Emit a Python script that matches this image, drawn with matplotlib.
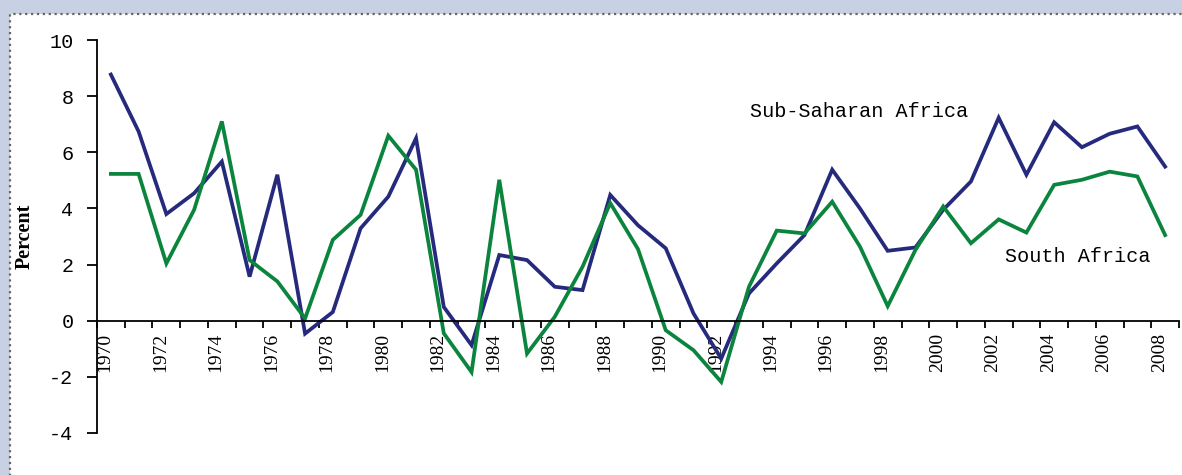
import matplotlib
matplotlib.use("Agg")
import matplotlib.pyplot as plt
from matplotlib.patches import Rectangle
from matplotlib.transforms import ScaledTranslation

years = list(range(1970, 2009))
ssa = [8.77, 6.74, 3.80, 4.54, 5.67, 1.57, 5.20, -0.46, 0.31, 3.29,
       4.42, 6.50, 0.49, -0.87, 2.34, 2.16, 1.21, 1.09, 4.48, 3.40,
       2.58, 0.26, -1.35, 0.97, 2.04, 3.05, 5.38, 4.00, 2.49, 2.61,
       3.95, 4.96, 7.23, 5.20, 7.07, 6.18, 6.66, 6.92, 5.49]
south_africa = [5.23, 5.23, 2.04, 3.95, 7.10, 2.16, 1.40, 0.08, 2.88, 3.77,
                6.59, 5.38, -0.45, -1.83, 5.02, -1.17, 0.14, 1.92, 4.19, 2.55,
                -0.34, -1.05, -2.18, 1.21, 3.21, 3.11, 4.24, 2.64, 0.52, 2.52,
                4.07, 2.76, 3.61, 3.14, 4.84, 5.02, 5.31, 5.14, 3.05]
y_ticks = [-4, -2, 0, 2, 4, 6, 8, 10]
label_ssa = "Sub-Saharan Africa"
label_sa = "South Africa"
y_label = "Percent"

W, H = 1182, 475
fig = plt.figure(figsize=(W / 100, H / 100), dpi=100, facecolor="#C8D0E4")
panel = Rectangle((10 / W, -0.05), 1.2, 1.05 - 14 / H,
                  transform=fig.transFigure, facecolor="white",
                  edgecolor="#666666", linestyle=":", lw=1.6, zorder=-10)
fig.patches.append(panel)

ax = fig.add_axes([97 / W, 42 / H, (1179 - 97) / W, (433 - 40) / H])
ax.set_zorder(5)
ax.set_facecolor("none")

x = list(range(len(years)))
ax.plot(x, ssa, color="#262A7C", lw=2.7, solid_joinstyle="miter")
ax.plot(x, south_africa, color="#0B843E", lw=2.7, solid_joinstyle="miter")

ax.set_xlim(-0.5, len(years) - 0.5)
ax.set_ylim(-4, 10)

for s in ["top", "right"]:
    ax.spines[s].set_visible(False)
ax.spines["bottom"].set_position(("data", 0))
ax.spines["bottom"].set_linewidth(1.3)
ax.spines["left"].set_linewidth(1.3)

serif = "Liberation Serif"
mono = "Liberation Mono"
ax.set_yticks(y_ticks)
ax.set_yticklabels([str(v) for v in y_ticks], fontfamily=mono, fontsize=14.5)
ax.tick_params(axis="y", direction="out", length=7, width=1.3, pad=10)

ax.set_xticks([i - 0.5 for i in range(len(years) + 1)])
ax.set_xticklabels([])
ax.tick_params(axis="x", which="major", direction="out", length=5, width=1.3)
centers = [i for i, yv in enumerate(years) if yv % 2 == 0]
ax.set_xticks(centers, minor=True)
ax.set_xticklabels([str(years[i]) for i in centers], minor=True,
                   rotation=90, fontfamily=serif, fontsize=14,
                   ha="center", va="top")
ax.tick_params(axis="x", which="minor", length=0, pad=8.5)
off = ScaledTranslation(-6 / 100, 0, fig.dpi_scale_trans)
for lab in ax.get_xticklabels(minor=True):
    lab.set_transform(lab.get_transform() + off)

ax.set_ylabel(y_label, fontfamily=serif, fontweight="bold", fontsize=14.5)
ax.yaxis.set_label_coords(-0.058, 0.50)

ax.text(23.04, 7.45, label_ssa, fontfamily=mono, fontsize=14.5,
        ha="left", va="center")
ax.text(32.23, 2.30, label_sa, fontfamily=mono, fontsize=14.5,
        ha="left", va="center")

fig.savefig("out.png", dpi=100, facecolor=fig.get_facecolor())
